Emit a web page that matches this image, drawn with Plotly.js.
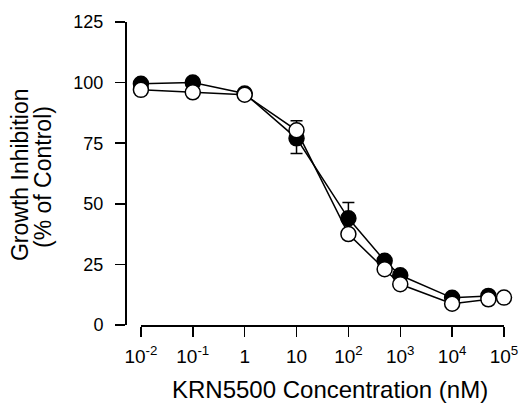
<!DOCTYPE html>
<html>
<head>
<meta charset="utf-8">
<script src="https://cdn.plot.ly/plotly-3.0.1.min.js"></script>
<style>html,body{margin:0;padding:0;background:#fff;}#chart{width:526px;height:403px;}</style>
</head>
<body>
<div id="chart"></div>
<script>
// Concentrations (nM)
var concFilled = [0.01, 0.1, 1, 10, 100, 500, 1000, 10000, 50000];
var filledValues = [99.5, 100, 95.5, 77, 44, 26.5, 20.5, 11.2, 12];
var filledErrUp = [0, 0, 0, 0, 6.5, 0, 0, 0, 0];
var filledErrDown = [0, 0, 0, 6.3, 0, 0, 0, 0, 0];

var concOpen = [0.01, 0.1, 1, 10, 100, 500, 1000, 10000, 50000, 100000];
var openValues = [97, 96, 95, 80.3, 37.5, 23, 16.8, 8.8, 10.6, 11.3];
var openErrUp = [0, 0, 0, 4, 0, 0, 0, 0, 0, 0];
var openErrDown = [0, 0, 0, 0, 0, 0, 0, 0, 0, 0];

var xTickVals = [0.01, 0.1, 1, 10, 100, 1000, 10000, 100000];
var xTickText = ['10<sup>-2</sup>', '10<sup>-1</sup>', '1', '10', '10<sup>2</sup>', '10<sup>3</sup>', '10<sup>4</sup>', '10<sup>5</sup>'];
var yTickVals = [0, 25, 50, 75, 100, 125];
var yTitleLines = ['Growth Inhibition', '(% of Control)'];
var xTitle = 'KRN5500 Concentration (nM)';

var traces = [
  {
    x: concFilled, y: filledValues, type: 'scatter', mode: 'lines+markers',
    line: {color: '#000', width: 1.5},
    marker: {size: 15, color: '#000', line: {color: '#000', width: 1.5}},
    error_y: {type: 'data', symmetric: false, array: filledErrUp, arrayminus: filledErrDown,
              color: '#000', thickness: 1.5, width: 6},
    cliponaxis: false, showlegend: false
  },
  {
    x: concOpen, y: openValues, type: 'scatter', mode: 'lines+markers',
    line: {color: '#000', width: 1.5},
    marker: {size: 15, color: '#fff', line: {color: '#000', width: 1.5}},
    error_y: {type: 'data', symmetric: false, array: openErrUp, arrayminus: openErrDown,
              color: '#000', thickness: 1.5, width: 6},
    cliponaxis: false, showlegend: false
  }
];

var layout = {
  width: 526, height: 403,
  margin: {l: 125, r: 22, t: 22, b: 78},
  paper_bgcolor: '#fff', plot_bgcolor: '#fff',
  font: {family: 'Liberation Sans, Arial, sans-serif', color: '#000'},
  xaxis: {
    type: 'log', range: [-2, 5], domain: [0.042, 1],
    anchor: 'free', position: 0,
    showgrid: false, zeroline: false,
    showline: true, linecolor: '#000', linewidth: 1.5,
    ticks: 'outside', ticklen: 10, tickwidth: 1.5, tickcolor: '#000',
    tickvals: xTickVals, ticktext: xTickText,
    ticklabelstandoff: 4,
    tickfont: {size: 19, color: '#000'}
  },
  yaxis: {
    range: [0, 125], domain: [0, 1],
    anchor: 'free', position: 0,
    showgrid: false, zeroline: false,
    showline: true, linecolor: '#000', linewidth: 1.5,
    ticks: 'outside', ticklen: 10, tickwidth: 1.5, tickcolor: '#000',
    tickvals: yTickVals,
    ticklabelstandoff: 8,
    tickfont: {size: 18, color: '#000'}
  },
  annotations: [
    {text: yTitleLines[0], xref: 'paper', yref: 'paper', x: -0.277, y: 0.495,
     xanchor: 'center', yanchor: 'middle', textangle: -90, showarrow: false,
     font: {size: 23, color: '#000'}},
    {text: yTitleLines[1], xref: 'paper', yref: 'paper', x: -0.216, y: 0.489,
     xanchor: 'center', yanchor: 'middle', textangle: -90, showarrow: false,
     font: {size: 23, color: '#000'}},
    {text: xTitle, xref: 'paper', yref: 'paper', x: 0.541, y: -0.212,
     xanchor: 'center', yanchor: 'middle', showarrow: false,
     font: {size: 24, color: '#000'}}
  ]
};

Plotly.newPlot('chart', traces, layout, {displayModeBar: false, staticPlot: true});
</script>
</body>
</html>
